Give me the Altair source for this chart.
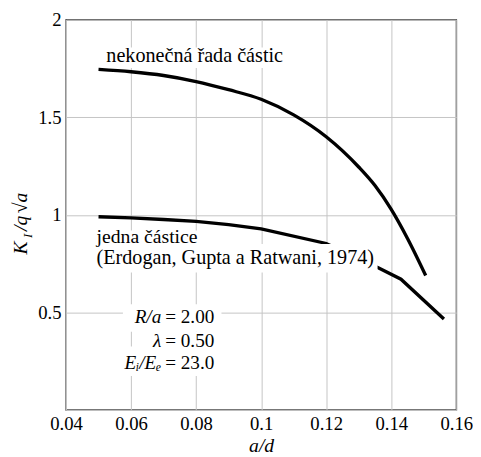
import altair as alt
import pandas as pd

# upper curve: infinite row of particles
x_upper = [0.05, 0.06, 0.07, 0.08, 0.09, 0.10, 0.11, 0.12, 0.13, 0.135, 0.14, 0.145, 0.1506]
y_upper = [1.745, 1.733, 1.714, 1.683, 1.641, 1.592, 1.512, 1.400, 1.245, 1.150, 1.028, 0.879, 0.689]

# lower curve: single particle
x_lower = [0.05, 0.06, 0.07, 0.08, 0.09, 0.10, 0.12, 0.136, 0.143, 0.1562]
y_lower = [0.990, 0.984, 0.976, 0.966, 0.950, 0.928, 0.853, 0.729, 0.670, 0.466]

x_ticks = [0.04, 0.06, 0.08, 0.10, 0.12, 0.14, 0.16]
y_ticks = [0, 0.5, 1, 1.5, 2]

# text labels (data coordinates)
lab_text = ["nekonečná řada částic", "jedna částice", "(Erdogan, Gupta a Ratwani, 1974)"]
lab_x = [0.0524, 0.0494, 0.0494]
lab_y = [1.812, 0.884, 0.776]
lab_size = [20.5, 20, 20.5]

# white background boxes behind labels (data coordinates)
box_x1 = [0.0515, 0.0488, 0.0488, 0.0575, 0.0614, 0.0524]
box_x2 = [0.1068, 0.0822, 0.1358, 0.0878, 0.0877, 0.0877]
box_y1 = [1.752, 0.850, 0.704, 0.401, 0.325, 0.174]
box_y2 = [1.857, 0.920, 0.850, 0.542, 0.401, 0.325]

# parameter block
par_var = ["R/a", "λ", "Eᵢ/Eₑ"]
par_val = ["= 2.00", "= 0.50", "= 23.0"]
par_x = 0.0705
par_y = [0.477, 0.351, 0.240]

FONT = "Liberation Serif"

up = pd.DataFrame({"x": x_upper, "y": y_upper})
lo = pd.DataFrame({"x": x_lower, "y": y_lower})
labels = pd.DataFrame({"x": lab_x, "y": lab_y, "t": lab_text, "s": lab_size})
boxes = pd.DataFrame({"x": box_x1, "x2": box_x2, "y": box_y1, "y2": box_y2})
params = pd.DataFrame({"x": [par_x] * 3, "y": par_y, "v": par_var, "n": par_val})

xs = alt.Scale(domain=[0.04, 0.16], nice=False, zero=False)
ys = alt.Scale(domain=[0, 2], nice=False)

xaxis = alt.Axis(values=x_ticks, format="~g", title="a/d", grid=True, ticks=False, domain=False,
                 gridColor="#c4c4c4", gridWidth=1, labelFont=FONT, labelFontSize=19, labelColor="black",
                 labelPadding=5, titleFont=FONT, titleFontSize=20, titleFontStyle="italic",
                 titleFontWeight="normal", titleColor="black", titlePadding=2, labelFlush=False)
yaxis = alt.Axis(values=y_ticks, format="~g", labelExpr="datum.value == 0 ? '' : datum.label",
                 title=None, grid=True, ticks=False, domain=False, gridColor="#c4c4c4", gridWidth=1,
                 labelFont=FONT, labelFontSize=19, labelColor="black", labelPadding=5)

line_up = alt.Chart(up).mark_line(color="black", strokeWidth=3.4, strokeCap="butt",
                                  interpolate="monotone").encode(
    x=alt.X("x:Q", scale=xs, axis=xaxis),
    y=alt.Y("y:Q", scale=ys, axis=yaxis),
)
line_lo = alt.Chart(lo).mark_line(color="black", strokeWidth=3.4, strokeCap="butt").encode(
    x=alt.X("x:Q", scale=xs), y=alt.Y("y:Q", scale=ys),
)

rects = alt.Chart(boxes).mark_rect(color="white").encode(
    x=alt.X("x:Q", scale=xs), x2="x2:Q", y=alt.Y("y:Q", scale=ys), y2="y2:Q"
)

texts = alt.Chart(labels).mark_text(align="left", baseline="middle", font=FONT,
                                    color="black").encode(
    x=alt.X("x:Q", scale=xs), y=alt.Y("y:Q", scale=ys), text="t:N",
    size=alt.Size("s:Q", scale=None, legend=None),
)

pvals = alt.Chart(params).mark_text(align="left", baseline="middle", font=FONT, fontSize=19.5,
                                    color="black").encode(
    x=alt.X("x:Q", scale=xs), y=alt.Y("y:Q", scale=ys), text="n:N"
)
pvars = alt.Chart(params).mark_text(align="right", baseline="middle", font=FONT, fontSize=19.5,
                                    fontStyle="italic", color="black", dx=-4).encode(
    x=alt.X("x:Q", scale=xs), y=alt.Y("y:Q", scale=ys), text="v:N"
)

# y-axis title built from pieces (K, subscript I, /q, √, a), rotated
yt_text = ["K", "I", "/q", "√", "a"]
yt_size = [20, 13, 20, 20, 20]
yt_x = [-40, -35, -40, -40, -40]
yt_y = [239, 222, 215, 197, 186]
ytitle = alt.layer(*[
    alt.Chart(pd.DataFrame({"t": [t]})).mark_text(
        align="left", baseline="alphabetic", angle=270, font=FONT, fontSize=s,
        fontStyle="italic", color="black"
    ).encode(x=alt.value(px), y=alt.value(py), text="t:N")
    for t, s, px, py in zip(yt_text, yt_size, yt_x, yt_y)
])

chart = alt.layer(line_up, line_lo, rects, texts, pvals, pvars, ytitle).properties(
    width=397, height=397, background="white",
    autosize=alt.AutoSizeParams(type="none"),
    padding={"left": 59, "top": 8, "right": 17, "bottom": 44},
).configure_view(stroke="#444444", strokeWidth=1.4)

chart.save("out.html", embed_options={"renderer": "svg", "actions": False})
